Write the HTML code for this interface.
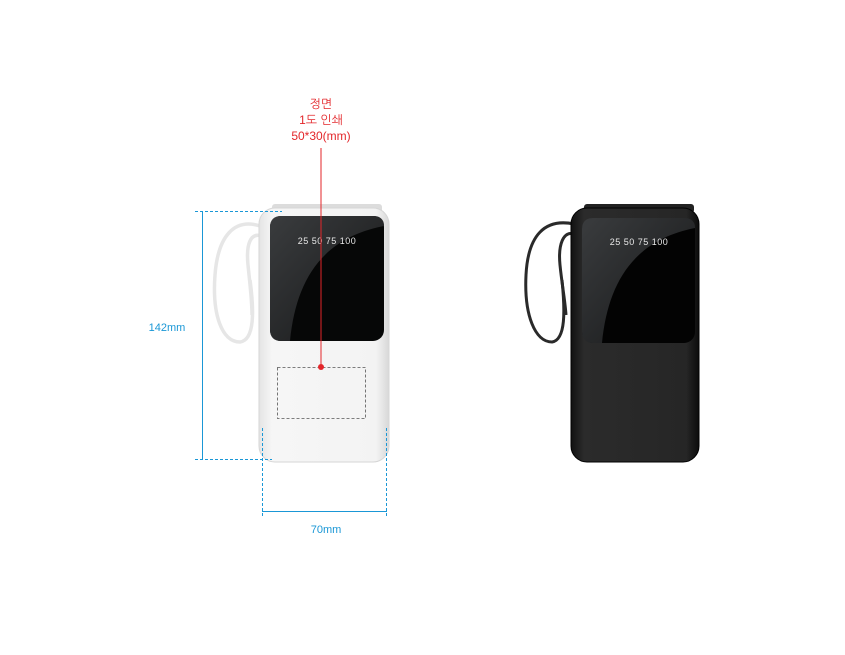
<!DOCTYPE html>
<html><head><style>
html,body{margin:0;padding:0;background:#fff;width:845px;height:655px;overflow:hidden}
svg{display:block}
text{font-family:"Liberation Sans","NanumGothic","Noto Sans CJK KR",sans-serif}
</style></head><body>
<svg width="845" height="655" viewBox="0 0 845 655" xmlns="http://www.w3.org/2000/svg">
<defs>
<linearGradient id="wb" x1="0" x2="1"><stop offset="0" stop-color="#e4e4e4"/><stop offset="0.1" stop-color="#f6f6f6"/><stop offset="0.9" stop-color="#f3f3f3"/><stop offset="1" stop-color="#d8d8d8"/></linearGradient>
<linearGradient id="bb" x1="0" x2="1"><stop offset="0" stop-color="#111"/><stop offset="0.1" stop-color="#2b2b2b"/><stop offset="0.9" stop-color="#262626"/><stop offset="1" stop-color="#0c0c0c"/></linearGradient>
<linearGradient id="gl" x1="0" y1="0" x2="1" y2="1"><stop offset="0" stop-color="#3a3c3e"/><stop offset="1" stop-color="#151617"/></linearGradient>
</defs>
<g fill="#e3262a" font-size="12" text-anchor="middle">
<text x="321" y="108">정면</text>
<text x="321" y="124">1도 인쇄</text>
<text x="321" y="140">50*30(mm)</text>
</g>
<!-- white device -->
<g fill="none" stroke="#e6e6e6" stroke-width="3.5">
<path d="M260 226 C235 218 218 235 215 275 C212 315 222 342 240 342 C255 340 254 310 250 280"/>
<path d="M262 236 C250 232 246 245 248 265 C250 285 252 300 252 315"/>
</g>
<rect x="272" y="204" width="110" height="9" rx="3" fill="#dcdcdc"/>
<rect x="259" y="208" width="130" height="254" rx="16" fill="url(#wb)" stroke="#d6d6d6"/>
<rect x="270" y="216" width="114" height="125" rx="11" fill="#060707"/>
<path d="M290 341 C296 280 322 238 384 226 L384 225 C384 220 380 216 374 216 L281 216 C274 216 270 220 270 227 L270 330 C270 337 274 341 281 341Z" fill="url(#gl)"/>
<text x="327" y="244" fill="#e8e8e8" font-size="9" text-anchor="middle" letter-spacing="0.5">25 50 75 100</text>
<rect x="277.5" y="367.5" width="88" height="51" fill="none" stroke="#555" stroke-dasharray="3,2" stroke-width="0.8"/>
<line x1="321" y1="148" x2="321" y2="367" stroke="#e3262a" stroke-width="1"/>
<circle cx="321" cy="367" r="3" fill="#e3262a"/>
<g stroke="#1a97d6" fill="none">
<line x1="195" y1="211.5" x2="282" y2="211.5" stroke-dasharray="3,2"/>
<line x1="195" y1="459.5" x2="272" y2="459.5" stroke-dasharray="3,2"/>
<line x1="202.5" y1="211" x2="202.5" y2="460"/>
<line x1="262.5" y1="428" x2="262.5" y2="517" stroke-dasharray="3,2"/>
<line x1="386.5" y1="428" x2="386.5" y2="517" stroke-dasharray="3,2"/>
<line x1="262" y1="511.5" x2="387" y2="511.5"/>
</g>
<g fill="#1a97d6" font-size="11" text-anchor="middle">
<text x="167" y="331">142mm</text>
<text x="326" y="533">70mm</text>
</g>
<!-- black device -->
<g fill="none" stroke="#2a2a2a" stroke-width="3">
<path d="M574 224 C545 218 528 235 526 275 C524 315 535 342 552 342 C566 340 565 310 562 280"/>
<path d="M575 234 C563 230 558 245 560 265 C562 285 565 300 566 315"/>
</g>
<rect x="584" y="204" width="110" height="9" rx="3" fill="#222"/>
<rect x="571" y="208" width="128" height="254" rx="16" fill="url(#bb)" stroke="#000"/>
<rect x="582" y="218" width="113" height="125" rx="11" fill="#030303"/>
<path d="M602 343 C608 282 634 240 695 228 L695 227 C695 222 691 218 685 218 L593 218 C586 218 582 222 582 229 L582 332 C582 339 586 343 593 343Z" fill="url(#gl)"/>
<text x="639" y="245" fill="#e8e8e8" font-size="9" text-anchor="middle" letter-spacing="0.5">25 50 75 100</text>
</svg>
</body></html>
